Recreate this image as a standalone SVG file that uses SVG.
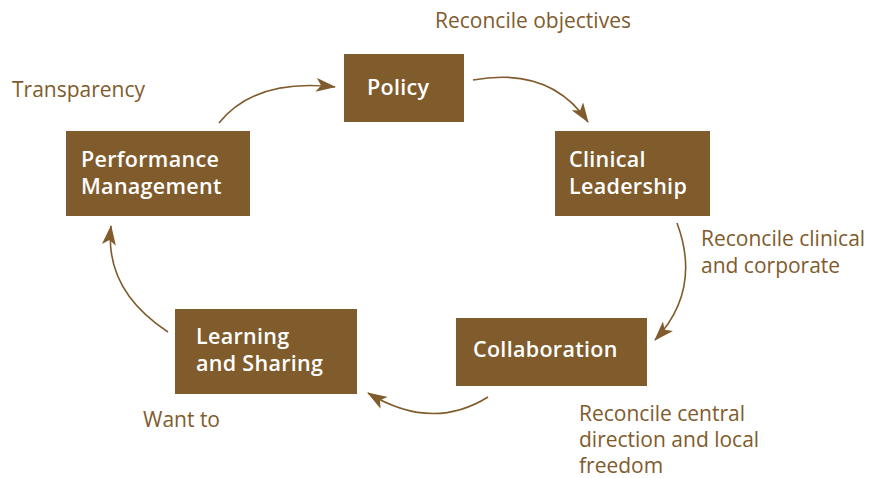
<svg xmlns="http://www.w3.org/2000/svg" width="880" height="478" viewBox="0 0 880 478">
  <style>
    .box { fill: #805b2c; }
    .node-text { font-family: "Open Sans", "Noto Sans", sans-serif; font-weight: 600; font-size: 21.5px; letter-spacing: 0.3px; fill: #ffffff; }
    .label { font-family: "Open Sans", "Noto Sans", sans-serif; font-size: 21px; fill: #805b2c; }
    .conn { fill: none; stroke: #805b2c; stroke-width: 1.6; marker-end: url(#arrow); }
  </style>
  <defs>
    <marker id="arrow" viewBox="0 0 20 14" refX="19" refY="7" markerWidth="20" markerHeight="14" markerUnits="userSpaceOnUse" orient="auto">
      <path d="M0,0 L20,7 L0,14 L5,7 Z" fill="#805b2c"/>
    </marker>
  </defs>
  <rect width="880" height="478" fill="#ffffff"/>

  <g id="connectors">
    <path class="conn" d="M219,123 Q255,78 335,87"/>
    <path class="conn" d="M473,80 Q550,66 588,122"/>
    <path class="conn" d="M677,223 Q702,290 655,340"/>
    <path class="conn" d="M488,397 Q432,432 368,393"/>
    <path class="conn" d="M168,332 Q104,290 111,226"/>
  </g>

  <g id="policy">
    <rect class="box" x="344" y="54" width="120" height="68"/>
    <text class="node-text" x="367" y="95">Policy</text>
  </g>
  <g id="clinical-leadership">
    <rect class="box" x="555" y="131" width="155" height="85"/>
    <text class="node-text" x="569" y="167">Clinical<tspan x="569" dy="27">Leadership</tspan></text>
  </g>
  <g id="collaboration">
    <rect class="box" x="456" y="318" width="191" height="68"/>
    <text class="node-text" x="473" y="357">Collaboration</text>
  </g>
  <g id="learning-sharing">
    <rect class="box" x="175" y="309" width="182" height="85"/>
    <text class="node-text" x="196" y="344">Learning<tspan x="196" dy="27">and Sharing</tspan></text>
  </g>
  <g id="performance-management">
    <rect class="box" x="66" y="131" width="184" height="85"/>
    <text class="node-text" x="81" y="167">Performance<tspan x="81" dy="27">Management</tspan></text>
  </g>

  <g id="labels">
    <text class="label" x="435" y="28">Reconcile objectives</text>
    <text class="label" x="12" y="97">Transparency</text>
    <text class="label" x="701" y="246">Reconcile clinical<tspan x="701" dy="27">and corporate</tspan></text>
    <text class="label" x="143" y="427">Want to</text>
    <text class="label" x="579" y="421">Reconcile central<tspan x="579" dy="26">direction and local</tspan><tspan x="579" dy="26">freedom</tspan></text>
  </g>
</svg>
